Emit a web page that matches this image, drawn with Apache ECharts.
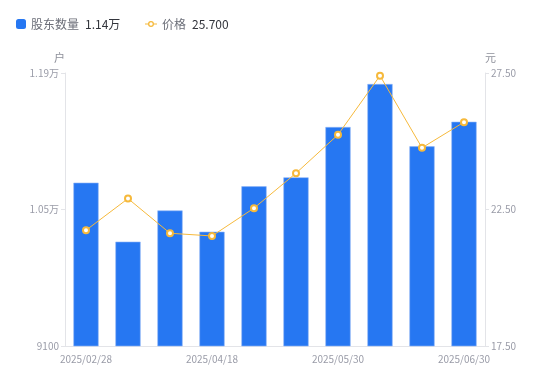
<!DOCTYPE html>
<html>
<head>
<meta charset="utf-8">
<script src="https://cdn.jsdelivr.net/npm/echarts@6/dist/echarts.min.js"></script>
<style>html,body{margin:0;padding:0;background:#fff}#c{width:550px;height:381px}</style>
</head>
<body>
<div id="c"></div>
<script>
const categories = ['2025/02/28','2025/03/10','2025/03/31','2025/04/18','2025/04/30','2025/05/20','2025/05/30','2025/06/10','2025/06/20','2025/06/30'];
const holders = [10775, 10170, 10490, 10272, 10738, 10830, 11346, 11787, 11148, 11400];
const prices = [21.74, 22.90, 21.63, 21.53, 22.55, 23.83, 25.24, 27.40, 24.76, 25.70];
const leftTicks = {min: 9100, max: 11900, interval: 1400};
const rightTicks = {min: 17.5, max: 27.5, interval: 5};

function fmtHolder(v){ return v >= 10000 ? (v/10000).toFixed(2) + '万' : String(v); }
const lastHolder = fmtHolder(holders[holders.length-1]);
const lastPrice = prices[prices.length-1].toFixed(3);

const font = '"Noto Sans CJK SC","Noto Sans",sans-serif';
const legendRich = {
  n: {color:'#6b6e78', fontSize:12, fontFamily: font, padding:[0,6,0,0]},
  v: {color:'#33353c', fontSize:12, fontFamily: font}
};
const lineIcon = 'path://M0,2.5H3.2V3.5H0Z M8.8,2.5H12V3.5H8.8Z M6,0A3,3 0 1,1 5.99,0Z M6,1.3A1.7,1.7 0 1,0 6.01,1.3Z';
const chart = echarts.init(document.getElementById('c'), null, {renderer:'canvas'});
chart.setOption({
  animation: false,
  textStyle: {fontFamily: font},
  legend: [
    {
      left: 16, top: 18, padding: 0,
      itemWidth: 10, itemHeight: 10,
      data: [{name:'股东数量', icon:'roundRect', itemStyle:{color:'#2677f2', borderWidth:0}}],
      formatter: () => '{n|股东数量}{v|' + lastHolder + '}',
      textStyle: {fontFamily: font, rich: legendRich}
    },
    {
      left: 145, top: 18, padding: 0,
      itemWidth: 12, itemHeight: 6,
      data: [{name:'价格', icon: lineIcon, itemStyle:{color:'#f6b93b', borderWidth:0}}],
      formatter: () => '{n|价格}{v|' + lastPrice + '}',
      textStyle: {fontFamily: font, rich: legendRich}
    }
  ],
  grid: {left: 65, right: 65, top: 73, bottom: 35},
  xAxis: {
    type: 'category', data: categories,
    axisLine: {lineStyle: {color:'#e3e4e8'}},
    axisTick: {show:false},
    axisLabel: {interval: 2, color:'#9a9ca8', fontSize: 10, fontFamily: font, margin: 8}
  },
  yAxis: [
    {
      type:'value', name:'户', min:leftTicks.min, max:leftTicks.max, interval:leftTicks.interval,
      nameTextStyle:{color:'#8e909a', fontSize:11, fontFamily: font, align:'right'},
      nameGap: 10,
      axisLine:{show:true, lineStyle:{color:'#e3e4e8'}},
      axisTick:{show:true, length:4, lineStyle:{color:'#e3e4e8'}},
      splitLine:{show:false},
      axisLabel:{color:'#9a9ca8', fontSize:10, fontFamily: font, margin:6, formatter: fmtHolder}
    },
    {
      type:'value', name:'元', min:rightTicks.min, max:rightTicks.max, interval:rightTicks.interval,
      position:'right',
      nameTextStyle:{color:'#8e909a', fontSize:11, fontFamily: font, align:'left'},
      nameGap: 10,
      axisLine:{show:true, lineStyle:{color:'#e3e4e8'}},
      axisTick:{show:true, length:4, lineStyle:{color:'#e3e4e8'}},
      splitLine:{show:false},
      axisLabel:{color:'#9a9ca8', fontSize:10, fontFamily: font, margin:6, formatter: v => v.toFixed(2)}
    }
  ],
  series: [
    {
      name:'股东数量', type:'bar', yAxisIndex:0, data: holders, barWidth: '60%',
      itemStyle:{color:'#2677f2', borderColor:'#8fb6f7', borderWidth:0.6}
    },
    {
      name:'价格', type:'line', yAxisIndex:1, data: prices,
      symbol:'emptyCircle', symbolSize:6,
      lineStyle:{color:'#f6b93b', width:1},
      itemStyle:{color:'#f6b93b', borderWidth:2}
    }
  ]
});
</script>
</body>
</html>
